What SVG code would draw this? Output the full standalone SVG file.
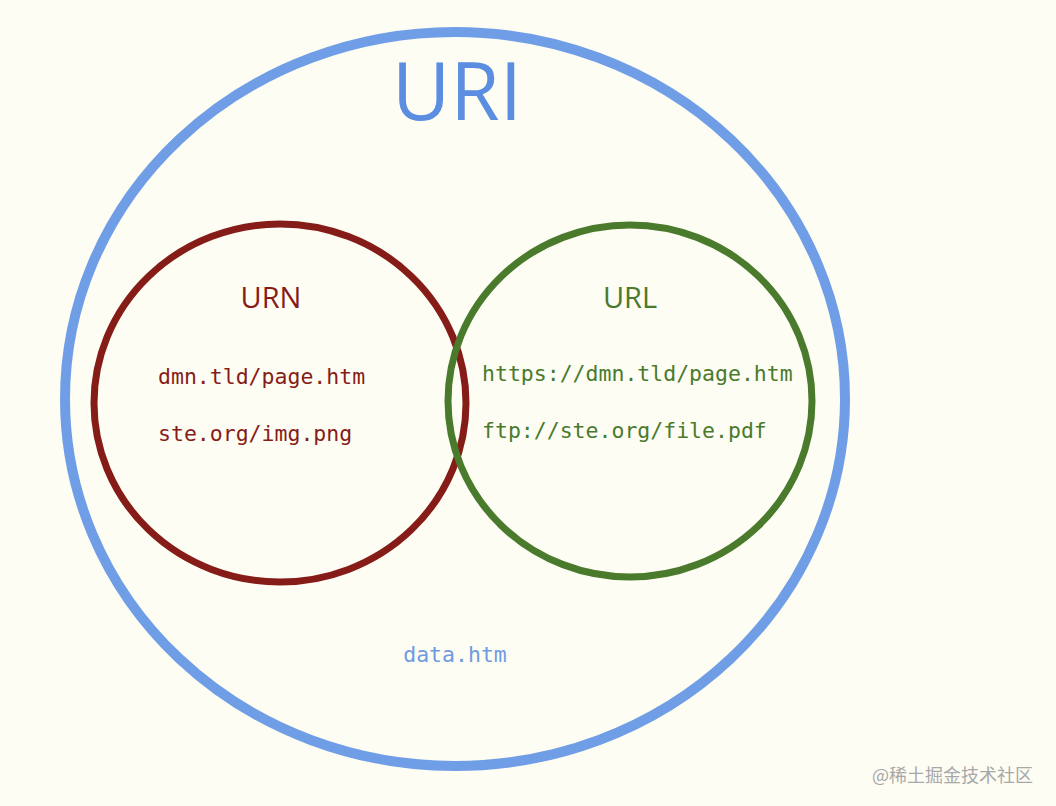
<svg xmlns="http://www.w3.org/2000/svg" width="1056" height="806" viewBox="0 0 1056 806">
<style>
.mono{font-family:"DejaVu Sans Mono","Liberation Mono",monospace;font-size:21.5px}
.sans{font-family:"Open Sans","Noto Sans",sans-serif}
</style>
<rect width="1056" height="806" fill="#fdfdf4"/>
<g id="uri">
<ellipse cx="455" cy="399" rx="390" ry="367" fill="none" stroke="#709ee6" stroke-width="10"/>
<text x="457" y="120" class="sans" font-size="80" fill="#5b8ee0" text-anchor="middle">URI</text>
<text x="455" y="662" class="mono" fill="#6f9be0" text-anchor="middle">data.htm</text>
</g>
<g id="urn">
<ellipse cx="280" cy="403" rx="186" ry="179" fill="none" stroke="#861c18" stroke-width="7"/>
<text x="271" y="308" class="sans" font-size="29" fill="#861c18" text-anchor="middle">URN</text>
<text x="158" y="384" class="mono" fill="#861c18">dmn.tld/page.htm</text>
<text x="158" y="441" class="mono" fill="#861c18">ste.org/img.png</text>
</g>
<g id="url">
<ellipse cx="630" cy="401" rx="182" ry="176" fill="none" stroke="#4a7a2c" stroke-width="7"/>
<text x="630" y="308" class="sans" font-size="29" fill="#4a7a2c" text-anchor="middle">URL</text>
<text x="482" y="381" class="mono" fill="#4a7a2c">https://dmn.tld/page.htm</text>
<text x="482" y="438" class="mono" fill="#4a7a2c">ftp://ste.org/file.pdf</text>
</g>
<text x="872" y="782" font-family="'Noto Sans CJK SC',sans-serif" font-size="18" fill="#a8a8a8">@稀土掘金技术社区</text>
</svg>
